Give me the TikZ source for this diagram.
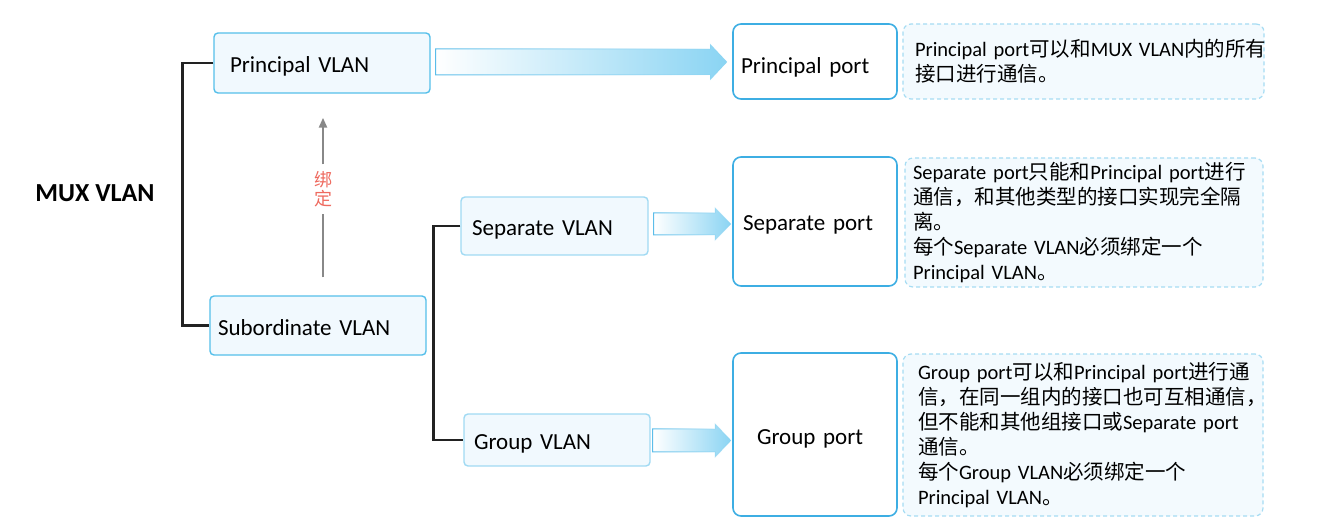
\documentclass[tikz,border=0pt]{standalone}
\usepackage{fontspec}
\setmainfont{Carlito}
\newfontfamily\cjk{Noto Sans CJK SC}
\newcommand\zh[1]{{\cjk #1}}
\usetikzlibrary{calc,fadings,arrows.meta}
\definecolor{vlanfill}{HTML}{F1F9FE}
\definecolor{vlanedge}{HTML}{55BFEA}
\definecolor{vlanedgelt}{HTML}{A0DAF3}
\definecolor{portedge}{HTML}{3DAEE3}
\definecolor{descfill}{HTML}{F3FAFE}
\definecolor{descedge}{HTML}{A6DCF3}
\definecolor{arrowblue}{HTML}{8AD4F3}
\definecolor{arrowedge}{HTML}{5BBDE9}
\definecolor{bindred}{HTML}{EE6A5F}
\definecolor{bracket}{HTML}{222222}
\definecolor{bindgray}{HTML}{888888}
\begin{document}
\begin{tikzpicture}[x=1pt,y=-1pt,
  vlanbox/.style={draw=vlanedge, line width=1.4pt, fill=vlanfill, rounded corners=4pt,
    align=left, inner ysep=0pt, text height=20pt, text depth=1pt, font=\fontsize{23}{28}\selectfont},
  vlanboxlt/.style={vlanbox, draw=vlanedgelt},
  portbox/.style={draw=portedge, line width=1.6pt, fill=white, rounded corners=8pt,
    align=left, inner ysep=0pt, text height=20pt, text depth=1pt, font=\fontsize{23}{28}\selectfont},
  descbox/.style={draw=descedge, line width=1.2pt, dash pattern=on 4pt off 3pt, fill=descfill,
    rounded corners=8pt, align=left, inner ysep=0pt, font=\fontsize{20.5}{25}\selectfont},
  brk/.style={draw=bracket, line width=2.4pt},
  fatfill/.style={left color=white, right color=arrowblue},
  fatedge/.style={draw=arrowedge, line width=1pt, path fading=east},
  bindline/.style={draw=bindgray, line width=2.4pt},
]
\useasboundingbox (0,0) rectangle (1322,529);

\node[font=\fontsize{26}{30}\selectfont\bfseries] (mux) at (95,193) {MUX VLAN};

\node[vlanbox, minimum height=60pt, text width=184pt, inner xsep=16pt] (pv) at (322,63) {Principal VLAN};
\node[vlanbox, minimum height=59pt, text width=200pt, inner xsep=8pt] (sv) at (318,325.5) {Subordinate VLAN};
\node[vlanboxlt, minimum height=58pt, text width=165pt, inner xsep=11pt] (sep) at (554.5,226) {Separate VLAN};
\node[vlanboxlt, minimum height=52pt, text width=166pt, inner xsep=10pt] (grp) at (557,440) {Group VLAN};

\node[portbox, minimum height=75pt, text width=148pt, inner xsep=8pt, text height=26pt, text depth=2pt] (pp) at (815,61.5) {Principal port};
\node[portbox, minimum height=129pt, text width=144pt, inner xsep=10pt] (sp) at (815,221.5) {Separate port};
\node[portbox, minimum height=163pt, text width=116pt, inner xsep=24pt] (gp) at (815,434.5) {Group port};

\node[descbox, minimum height=75pt, text width=337pt, inner xsep=12pt] (d1) at (1083.5,61.5)
  {Principal~port\zh{可以和}MUX~VLAN\zh{内的所有}\\\zh{接口进行通信。}};
\node[descbox, minimum height=129pt, text width=342pt, inner xsep=8pt] (d2) at (1084,222.5)
  {Separate~port\zh{只能和}Principal~port\zh{进行}\\
   \zh{通信，和其他类型的接口实现完全隔}\\
   \zh{离。}\\
   \zh{每个}Separate~VLAN\zh{必须绑定一个}\\
   Principal~VLAN\zh{。}};
\node[descbox, minimum height=162pt, text width=330pt, inner xsep=15pt] (d3) at (1083,435)
  {Group~port\zh{可以和}Principal~port\zh{进行通}\\
   \zh{信，在同一组内的接口也可互相通信，}\\
   \zh{但不能和其他组接口或}Separate~port\\
   \zh{通信。}\\
   \zh{每个}Group~VLAN\zh{必须绑定一个}\\
   Principal~VLAN\zh{。}};

% brackets
\draw[brk] (pv.west) -- ++(-31,0) |- (sv.west);
\draw[brk] (sep.west) -- ++(-27,0) |- (grp.west);

% binding arrow
\node[font=\fontsize{18}{19}\selectfont\cjk, text=bindred, align=center, inner sep=0pt,
  minimum height=49pt] (bd) at (323,189) {绑\\定};
\draw[bindline] ($(sv.north)+(5,-18)$) -- (bd.south);
\draw[bindline, -{Triangle[width=8pt,length=10pt]}] (bd.north) -- ($(pv.south)+(1,24)$);

% fat gradient arrows
\coordinate (a1s) at ($(pv.east)+(5,-1)$);
\coordinate (a1e) at ($(pp.west)+(-5,0.5)$);
\foreach \st in {fatfill,fatedge}{
\path[\st] ($(a1s)+(0,-13)$) -- ($(a1e)+(-17,-13)$) -- ($(a1e)+(-17,-18)$) -- (a1e)
  -- ($(a1e)+(-17,18)$) -- ($(a1e)+(-17,13)$) -- ($(a1s)+(0,13)$) -- cycle;
}
\coordinate (a2s) at ($(sep.east)+(5,-2)$);
\coordinate (a2e) at ($(sp.west)+(-1,2.5)$);
\foreach \st in {fatfill,fatedge}{
\path[\st] ($(a2s)+(0,-11)$) -- ($(a2e)+(-16,-11)$) -- ($(a2e)+(-16,-16)$) -- (a2e)
  -- ($(a2e)+(-16,16)$) -- ($(a2e)+(-16,11)$) -- ($(a2s)+(0,11)$) -- cycle;
}
\coordinate (a3s) at ($(grp.east)+(2,0.5)$);
\coordinate (a3e) at ($(gp.west)+(-1,6)$);
\foreach \st in {fatfill,fatedge}{
\path[\st] ($(a3s)+(0,-11.5)$) -- ($(a3e)+(-16,-11.5)$) -- ($(a3e)+(-16,-16.5)$) -- (a3e)
  -- ($(a3e)+(-16,16.5)$) -- ($(a3e)+(-16,11.5)$) -- ($(a3s)+(0,11.5)$) -- cycle;
}
\end{tikzpicture}
\end{document}
